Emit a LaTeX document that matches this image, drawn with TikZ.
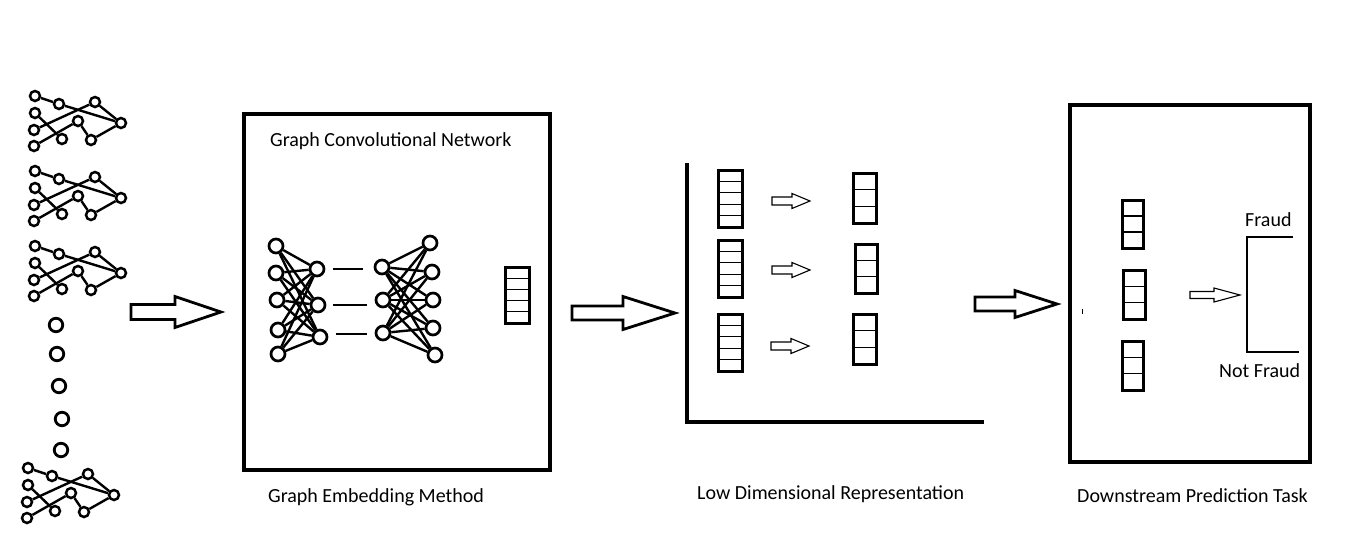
\documentclass[tikz,border=0pt]{standalone}
\usepackage{fontspec}
\setmainfont{Carlito}
\newcommand{\motif}[3]{%
 \begin{scope}[shift={(#2,#3)}]
  \node[gn] (#1a) at (35,96) {};
  \node[gn] (#1b) at (59,104) {};
  \node[gn] (#1c) at (95,102) {};
  \node[gn] (#1d) at (35,113) {};
  \node[gn] (#1e) at (78,121) {};
  \node[gn] (#1f) at (121,123) {};
  \node[gn] (#1g) at (34,130) {};
  \node[gn] (#1h) at (62,139) {};
  \node[gn] (#1i) at (91,140) {};
  \node[gn] (#1j) at (34,146) {};
  \draw[ge] (#1a) -- (#1b);
  \draw[ge] (#1b) -- (#1f);
  \draw[ge] (#1c) -- (#1f);
  \draw[ge] (#1c) -- (#1g);
  \draw[ge] (#1d) -- (#1h);
  \draw[ge] (#1e) -- (#1j);
  \draw[ge] (#1e) -- (#1i);
  \draw[ge] (#1i) -- (#1f);
 \end{scope}}
\newcommand{\vecbox}[6]{%
 \foreach \k in {#6} \draw[cellline] (#1,{#2+(#4-#2)*\k/#5}) -- (#3,{#2+(#4-#2)*\k/#5});
 \draw[vecframe] (#1,#2) rectangle (#3,#4);}
% x left, y centre, shaft length, head length, shaft half, head half
\newcommand{\blockarrow}[7]{%
 \draw[#7] (#1,{#2-#5}) -- ({#1+#3},{#2-#5}) -- ({#1+#3},{#2-#6}) -- ({#1+#3+#4},#2)
  -- ({#1+#3},{#2+#6}) -- ({#1+#3},{#2+#5}) -- (#1,{#2+#5}) -- cycle;}
\begin{document}
\begin{tikzpicture}[x=1pt,y=-1pt,
  gn/.style={circle,draw,line width=2.5pt,inner sep=0pt,minimum size=10pt},
  ge/.style={line width=2.4pt},
  dot/.style={circle,draw,line width=2.8pt,inner sep=0pt,minimum size=13.5pt},
  nn/.style={circle,draw,line width=2.7pt,inner sep=0pt,minimum size=14pt},
  nne/.style={line width=2.4pt},
  frame/.style={line width=3.2pt},
  vecframe/.style={line width=3pt},
  cellline/.style={line width=1.1pt},
  thinline/.style={line width=1.4pt},
  bigarrow/.style={line width=2.8pt,line join=miter},
  smallarrow/.style={line width=1.1pt,line join=miter},
  lbl/.style={anchor=west,inner sep=0pt,text=black,font=\fontsize{20}{22}\selectfont}]
\useasboundingbox (0,0) rectangle (1371,552);
\fill[white] (0,0) rectangle (1371,552);

% ---- input graphs ----
\motif{ga}{0}{0}
\motif{gb}{0}{75}
\motif{gc}{0}{150}
\motif{gd}{-7}{372}
\node[dot] (d1) at (56,325) {};
\node[dot] (d2) at (57,354) {};
\node[dot] (d3) at (59,386) {};
\node[dot] (d4) at (62,419) {};
\node[dot] (d5) at (61,450) {};

% ---- big arrows ----
\blockarrow{131}{312}{44}{46}{7.5}{15.5}{bigarrow}
\blockarrow{572}{313}{51}{52}{7}{16.5}{bigarrow}
\blockarrow{975}{304}{40}{42}{7}{13.5}{bigarrow}

% ---- GCN box ----
\draw[frame] (244,114) rectangle (550,470);
\node[lbl] (gcnt) at (270,141) {Graph Convolutional Network};
\node[lbl] (gemb) at (268,497) {Graph Embedding Method};

\node[nn] (L1) at (276,246) {};
\node[nn] (L2) at (276,273) {};
\node[nn] (L3) at (277,300) {};
\node[nn] (L4) at (278,330) {};
\node[nn] (L5) at (278,354) {};
\node[nn] (M1) at (317,269) {};
\node[nn] (M2) at (318,305) {};
\node[nn] (M3) at (320,337) {};
\foreach \a in {L1,L2,L3,L4,L5} \foreach \b in {M1,M2,M3} \draw[nne] (\a) -- (\b);

\node[nn] (P1) at (382,267) {};
\node[nn] (P2) at (383,300) {};
\node[nn] (P3) at (383,333) {};
\node[nn] (Q1) at (430,243) {};
\node[nn] (Q2) at (432,272) {};
\node[nn] (Q3) at (433,300) {};
\node[nn] (Q4) at (433,328) {};
\node[nn] (Q5) at (435,355) {};
\foreach \a in {P1,P2,P3} \foreach \b in {Q1,Q2,Q3,Q4,Q5} \draw[nne] (\a) -- (\b);

\draw[cellline] (333,269) -- (363,269);
\draw[cellline] (333,305) -- (367,305);
\draw[cellline] (336,334) -- (367,334);

\vecbox{505}{267}{529}{323}{5}{1,2,3,4}

% ---- low dimensional representation ----
\draw[frame] (687,163) -- (687,422) -- (984,422);
\vecbox{718}{170}{742}{227}{5}{1,2,3,4}
\vecbox{718}{240}{742}{297}{5}{1,2,3,4}
\vecbox{718}{314}{742}{371}{5}{1,2,3,4}
\vecbox{853}{173}{876}{223}{3}{1,2}
\vecbox{855}{244}{877}{293}{3}{1,2}
\vecbox{853}{314}{876}{364}{3}{1,2}
\blockarrow{772}{201}{20}{18}{4}{7.5}{smallarrow}
\blockarrow{772}{270}{20}{18}{4}{7.5}{smallarrow}
\blockarrow{771}{346}{20}{18}{4}{7.5}{smallarrow}
\node[lbl] (ldr) at (697,494) {Low Dimensional Representation};

% ---- downstream box ----
\draw[frame] (1070,105) rectangle (1310,462);
\draw[line width=1pt] (1082,309) -- (1082,314);
\vecbox{1122}{200}{1143}{248}{3}{1,2}
\vecbox{1123}{270}{1145}{319}{3}{1,2}
\vecbox{1122}{341}{1143}{390}{3}{1,2}
\blockarrow{1190}{295}{24}{26}{3.5}{7}{smallarrow}
\draw[thinline] (1293,237) -- (1247,237) -- (1247,352) -- (1299,352);
\node[lbl] (fr) at (1245,220) {Fraud};
\node[lbl] (nfr) at (1219,371) {Not Fraud};
\node[lbl] (dpt) at (1077,496) {Downstream Prediction Task};
\end{tikzpicture}
\end{document}
